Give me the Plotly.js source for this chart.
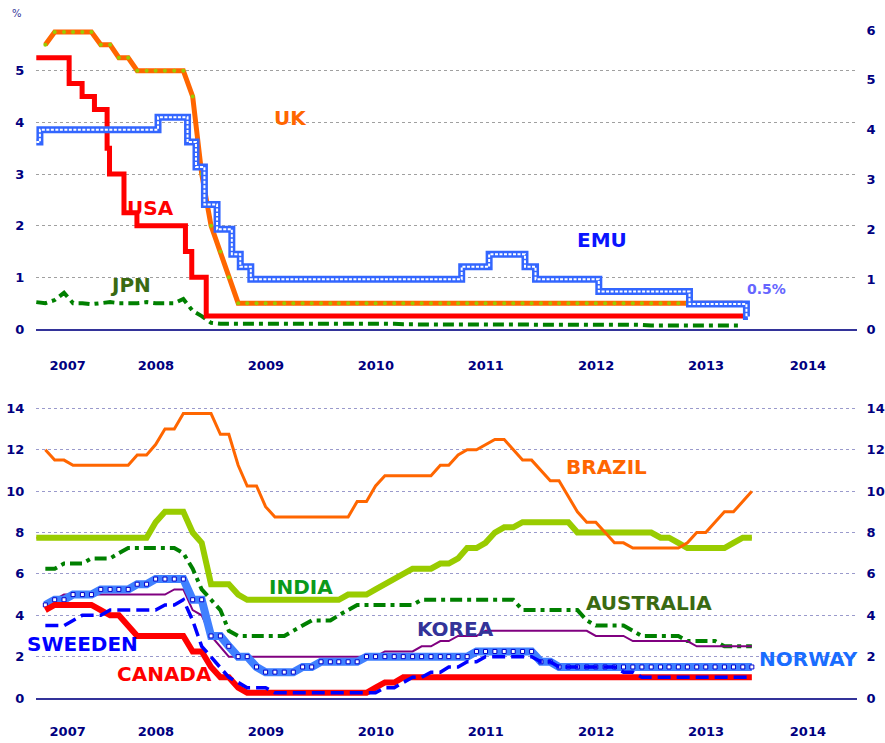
<!DOCTYPE html>
<html><head><meta charset="utf-8">
<script src="https://cdn.plot.ly/plotly-3.0.1.min.js"></script>
<style>html,body{margin:0;padding:0;background:#fff}#chart{width:885px;height:743px}</style>
</head><body><div id="chart"></div>
<script>
// ---------- DATA ----------
// Top panel (policy rates, %)
const usaDates = ['2007-06-01','2007-09-18','2007-10-31','2007-12-11','2008-01-22','2008-01-30','2008-03-18','2008-04-30','2008-10-08','2008-10-29','2008-12-16','2013-11-05'];
const usaRates = [5.25,4.75,4.5,4.25,3.5,3.0,2.25,2.0,1.5,1.0,0.25,0.25];

const emuDates = ['2007-06-01','2007-06-13','2008-07-09','2008-10-15','2008-11-12','2008-12-10','2009-01-21','2009-03-11','2009-04-08','2009-05-13','2011-04-13','2011-07-13','2011-11-09','2011-12-14','2012-07-11','2013-05-08','2013-11-13','2013-11-18'];
const emuRates = [3.75,4.0,4.25,3.75,3.25,2.5,2.0,1.5,1.25,1.0,1.25,1.5,1.25,1.0,0.75,0.5,0.25,0.25];

// monthly series: first month index (0 = Jan 2007)
const ukStart = 6;
const ukRates = [
  5.5,5.75,5.75,5.75,5.75,5.75,
  5.5,5.5,5.25,5.25,5.0,5.0,5.0,5.0,5.0,5.0,4.5,3.0,
  2.0,1.5,1.0,0.5,0.5,0.5,0.5,0.5,0.5,0.5,0.5,0.5,
  0.5,0.5,0.5,0.5,0.5,0.5,0.5,0.5,0.5,0.5,0.5,0.5,
  0.5,0.5,0.5,0.5,0.5,0.5,0.5,0.5,0.5,0.5,0.5,0.5,
  0.5,0.5,0.5,0.5,0.5,0.5,0.5,0.5,0.5,0.5,0.5,0.5,
  0.5,0.5,0.5,0.5,0.5,0.5,0.5,0.5,0.5,0.5,0.5];

const jpnStart = 5;
const jpnRates = [
  0.52,0.5,0.56,0.7,0.5,0.5,0.48,
  0.5,0.52,0.5,0.5,0.5,0.52,0.5,0.5,0.5,0.58,0.35,0.25,
  0.12,0.1,0.1,0.11,0.1,0.1,0.1,0.11,0.1,0.1,0.1,0.1,
  0.1,0.1,0.1,0.1,0.1,0.1,0.1,0.1,0.1,0.09,0.09,0.09,
  0.08,0.09,0.08,0.08,0.08,0.08,0.08,0.09,0.08,0.08,0.08,0.08,
  0.08,0.08,0.08,0.08,0.08,0.08,0.08,0.08,0.08,0.08,0.08,0.08,
  0.07,0.07,0.07,0.07,0.07,0.07,0.07,0.07,0.07,0.07,0.07];

// Bottom panel
const bottomStart = 6;
const brazilRates = [
  12.0,11.5,11.5,11.25,11.25,11.25,
  11.25,11.25,11.25,11.25,11.75,11.75,12.25,13.0,13.0,13.75,13.75,13.75,
  13.75,12.75,12.75,11.25,10.25,10.25,9.25,8.75,8.75,8.75,8.75,8.75,
  8.75,8.75,8.75,8.75,9.5,9.5,10.25,10.75,10.75,10.75,10.75,10.75,
  10.75,11.25,11.25,11.75,12.0,12.0,12.25,12.5,12.5,12.0,11.5,11.5,
  11.0,10.5,10.5,9.75,9.0,8.5,8.5,8.0,7.5,7.5,7.25,7.25,
  7.25,7.25,7.25,7.25,7.5,8.0,8.0,8.5,9.0,9.0,9.5,10.0];

const indiaStart = 5;
const indiaRates = [
  7.75,
  7.75,7.75,7.75,7.75,7.75,7.75,
  7.75,7.75,7.75,7.75,7.75,7.75,8.5,9.0,9.0,9.0,8.0,7.5,
  5.5,5.5,5.5,5.0,4.75,4.75,4.75,4.75,4.75,4.75,4.75,4.75,
  4.75,4.75,4.75,5.0,5.0,5.0,5.25,5.5,5.75,6.0,6.25,6.25,
  6.25,6.5,6.5,6.75,7.25,7.25,7.5,8.0,8.25,8.25,8.5,8.5,
  8.5,8.5,8.5,8.5,8.0,8.0,8.0,8.0,8.0,8.0,8.0,8.0,
  8.0,7.75,7.75,7.5,7.25,7.25,7.25,7.25,7.25,7.5,7.75,7.75];

const australiaRates = [
  6.25,6.25,6.5,6.5,6.5,6.75,
  6.75,6.75,7.0,7.25,7.25,7.25,7.25,7.25,7.25,7.0,6.25,5.25,
  4.75,4.25,3.25,3.0,3.0,3.0,3.0,3.0,3.0,3.25,3.5,3.75,
  3.75,3.75,4.0,4.25,4.5,4.5,4.5,4.5,4.5,4.5,4.5,4.75,
  4.75,4.75,4.75,4.75,4.75,4.75,4.75,4.75,4.75,4.75,4.25,4.25,
  4.25,4.25,4.25,4.25,4.25,3.75,3.5,3.5,3.5,3.5,3.25,3.0,
  3.0,3.0,3.0,3.0,2.75,2.75,2.75,2.75,2.5,2.5,2.5,2.5];

const koreaRates = [
  4.5,4.75,5.0,5.0,5.0,5.0,
  5.0,5.0,5.0,5.0,5.0,5.0,5.0,5.0,5.25,5.25,4.25,4.0,
  3.0,2.5,2.0,2.0,2.0,2.0,2.0,2.0,2.0,2.0,2.0,2.0,
  2.0,2.0,2.0,2.0,2.0,2.0,2.0,2.25,2.25,2.25,2.25,2.5,
  2.5,2.75,2.75,3.0,3.0,3.0,3.25,3.25,3.25,3.25,3.25,3.25,
  3.25,3.25,3.25,3.25,3.25,3.25,3.0,3.0,3.0,3.0,2.75,2.75,
  2.75,2.75,2.75,2.75,2.75,2.5,2.5,2.5,2.5,2.5,2.5,2.5];

const norwayRates = [
  4.5,4.75,4.75,5.0,5.0,5.0,
  5.25,5.25,5.25,5.25,5.5,5.5,5.75,5.75,5.75,5.75,4.75,4.75,
  3.0,3.0,2.5,2.0,2.0,1.5,1.25,1.25,1.25,1.25,1.5,1.5,
  1.75,1.75,1.75,1.75,1.75,2.0,2.0,2.0,2.0,2.0,2.0,2.0,
  2.0,2.0,2.0,2.0,2.0,2.25,2.25,2.25,2.25,2.25,2.25,2.25,
  1.75,1.75,1.5,1.5,1.5,1.5,1.5,1.5,1.5,1.5,1.5,1.5,
  1.5,1.5,1.5,1.5,1.5,1.5,1.5,1.5,1.5,1.5,1.5,1.5];

const swedenRates = [
  3.5,3.5,3.5,3.75,4.0,4.0,
  4.0,4.25,4.25,4.25,4.25,4.25,4.25,4.5,4.5,4.75,3.75,2.5,
  2.0,1.5,1.0,0.75,0.5,0.5,0.5,0.25,0.25,0.25,0.25,0.25,
  0.25,0.25,0.25,0.25,0.25,0.25,0.25,0.5,0.5,0.75,1.0,1.0,
  1.25,1.25,1.5,1.5,1.75,1.75,2.0,2.0,2.0,2.0,2.0,2.0,
  1.75,1.75,1.5,1.5,1.5,1.5,1.5,1.5,1.5,1.25,1.25,1.0,
  1.0,1.0,1.0,1.0,1.0,1.0,1.0,1.0,1.0,1.0,1.0,1.0];

const canadaRates = [
  4.25,4.5,4.5,4.5,4.5,4.5,
  4.25,4.0,4.0,3.5,3.0,3.0,3.0,3.0,3.0,3.0,2.25,2.25,
  1.5,1.0,1.0,0.5,0.25,0.25,0.25,0.25,0.25,0.25,0.25,0.25,
  0.25,0.25,0.25,0.25,0.25,0.25,0.5,0.75,0.75,1.0,1.0,1.0,
  1.0,1.0,1.0,1.0,1.0,1.0,1.0,1.0,1.0,1.0,1.0,1.0,
  1.0,1.0,1.0,1.0,1.0,1.0,1.0,1.0,1.0,1.0,1.0,1.0,
  1.0,1.0,1.0,1.0,1.0,1.0,1.0,1.0,1.0,1.0,1.0,1.0];

const yearLabels = ['2007','2008','2009','2010','2011','2012','2013','2014'];
const yearLabelPos = ['2007-09-13','2008-07-02','2009-07-02','2010-07-02','2011-07-02','2012-07-02','2013-07-02','2014-06-05'];
const topLeftTicks = [0,1,2,3,4,5];
const topRightTicks = [0,1,2,3,4,5,6];
const bottomTicks = [0,2,4,6,8,10,12,14];

// ---------- helpers ----------
function monthDates(startM, n){
  const out=[];
  for(let i=0;i<n;i++){const m=startM+i;const y=2007+Math.floor(m/12);const mo=m%12+1;out.push(y+'-'+String(mo).padStart(2,'0')+'-01');}
  return out;
}
const W=885,H=743;
const px=x=>x/W, py=y=>1-y/H;

const FONT='DejaVu Sans';
const NAVY='#000080';

function line(x,y,color,width,opts){
  return Object.assign({type:'scatter',mode:'lines',x:x,y:y,xaxis:'x',yaxis:'y',
    line:{color:color,width:width},hoverinfo:'skip',showlegend:false},opts||{});
}

const ukX = monthDates(ukStart, ukRates.length);
const jpnX = monthDates(jpnStart, jpnRates.length);
const botX = monthDates(bottomStart, brazilRates.length);
const indiaX = monthDates(indiaStart, indiaRates.length);

const traces = [
  // top panel
  line(jpnX,jpnRates,'#008000',4,{line:{color:'#008000',width:4,dash:'11px,5px,4px,5px'}}),
  line(usaDates,usaRates,'#ff0000',5,{line:{color:'#ff0000',width:5,shape:'hv'}}),
  line(ukX,ukRates,'#ff6600',5,{mode:'lines+markers',marker:{color:'#99cc00',size:4}}),
  line(emuDates,emuRates,'#3366ff',7,{yaxis:'y2',line:{color:'#3366ff',width:7,shape:'hv'}}),
  line(emuDates,emuRates,'#ffffff',2,{yaxis:'y2',line:{color:'#ffffff',width:2,shape:'hv',dash:'3px,1.5px'}}),
  // bottom panel
  line(indiaX,indiaRates,'#ff6600',2,{xaxis:'x2',yaxis:'y3'}),
  line(indiaX,indiaRates,'#99cc00',6,{xaxis:'x2',yaxis:'y3'}),
  line(botX,brazilRates,'#ff6600',3,{xaxis:'x2',yaxis:'y3'}),
  line(botX,australiaRates,'#008000',4,{xaxis:'x2',yaxis:'y3',line:{color:'#008000',width:4,dash:'12px,5px,4px,5px'}}),
  line(botX,koreaRates,'#800080',2,{xaxis:'x2',yaxis:'y3'}),
  line(botX,norwayRates,'#4080ff',8,{xaxis:'x2',yaxis:'y3',mode:'lines+markers',
      marker:{symbol:'square',size:4,color:'#ffffff',line:{color:'#0000cc',width:1}}}),
  line(botX,canadaRates,'#ff0000',6,{xaxis:'x2',yaxis:'y3'}),
  line(botX,swedenRates,'#0000ff',3.5,{xaxis:'x2',yaxis:'y4',line:{color:'#0000ff',width:3.5,dash:'13px,6px'}})
];

const tickFont = {family:FONT,size:13,color:NAVY,weight:'bold'};
const xRange = ['2007-05-31','2014-11-15'];
const xDomain = [px(36),px(857)];
function xAxis(anchor,ticklen){
  return {type:'date',range:xRange,domain:xDomain,anchor:anchor,tickmode:'array',
    tickvals:yearLabelPos,ticktext:yearLabels,ticks:'outside',ticklen:ticklen,tickcolor:'rgba(0,0,0,0)',
    showgrid:false,zeroline:false,showline:true,linecolor:'#333399',linewidth:2,tickfont:tickFont,fixedrange:true};
}
const topDomain=[py(329),py(19)];
const botDomain=[py(698),py(396)];

const ann = (text,x,y,color,size,bold) => ({text:bold===false?text:'<b>'+text+'</b>',x:px(x),y:py(y),xref:'paper',yref:'paper',
  showarrow:false,xanchor:'center',yanchor:'middle',font:{family:FONT,size:size,color:color}});

const layout = {
  width:W,height:H,margin:{l:0,r:0,t:0,b:0},paper_bgcolor:'#ffffff',plot_bgcolor:'rgba(0,0,0,0)',
  showlegend:false,
  xaxis:xAxis('y',23),
  xaxis2:xAxis('y3',20),
  yaxis:{domain:topDomain,range:[0,6.0],anchor:'x',tickmode:'array',tickvals:topLeftTicks,
    showgrid:true,gridcolor:'#a0a0a0',griddash:'dot',gridwidth:1,zeroline:false,
    ticks:'outside',ticklen:8,tickcolor:'rgba(0,0,0,0)',tickfont:tickFont,fixedrange:true},
  yaxis2:{domain:topDomain,range:[0,6.22],overlaying:'y',side:'right',anchor:'x',tickmode:'array',tickvals:topRightTicks,
    showgrid:false,zeroline:false,ticks:'outside',ticklen:6,tickcolor:'rgba(0,0,0,0)',tickfont:tickFont,fixedrange:true},
  yaxis3:{domain:botDomain,range:[0,14.6],anchor:'x2',tickmode:'array',tickvals:bottomTicks,
    showgrid:true,gridcolor:'#9a9acc',griddash:'dot',gridwidth:1,zeroline:false,
    ticks:'outside',ticklen:8,tickcolor:'rgba(0,0,0,0)',tickfont:tickFont,fixedrange:true},
  yaxis4:{domain:botDomain,range:[0,14.6],overlaying:'y3',side:'right',anchor:'x2',tickmode:'array',tickvals:bottomTicks,
    showgrid:false,zeroline:false,ticks:'outside',ticklen:6,tickcolor:'rgba(0,0,0,0)',tickfont:tickFont,fixedrange:true},
  annotations:[
    ann('%',17,14,'#333399',10,false),
    ann('UK',290,118,'#ff6600',20),
    ann('USA',150,208,'#ff0000',20),
    ann('EMU',602,240,'#0a14ff',20),
    ann('JPN',130,285,'#3a6a12',20),
    ann('0.5%',766,289,'#6666ff',14),
    ann('BRAZIL',606,467,'#ff6600',20),
    ann('INDIA',301,587,'#0a9a1a',20),
    ann('AUSTRALIA',649,603,'#3a6a12',20),
    ann('KOREA',455,629,'#333399',20),
    ann('SWEEDEN',82,644,'#0000ff',20),
    ann('CANADA',164,674,'#ff0000',20),
    ann('NORWAY',808,659,'#1a6dff',20)
  ]
};

Plotly.newPlot('chart',traces,layout,{staticPlot:true,displayModeBar:false});
</script>
</body></html>
